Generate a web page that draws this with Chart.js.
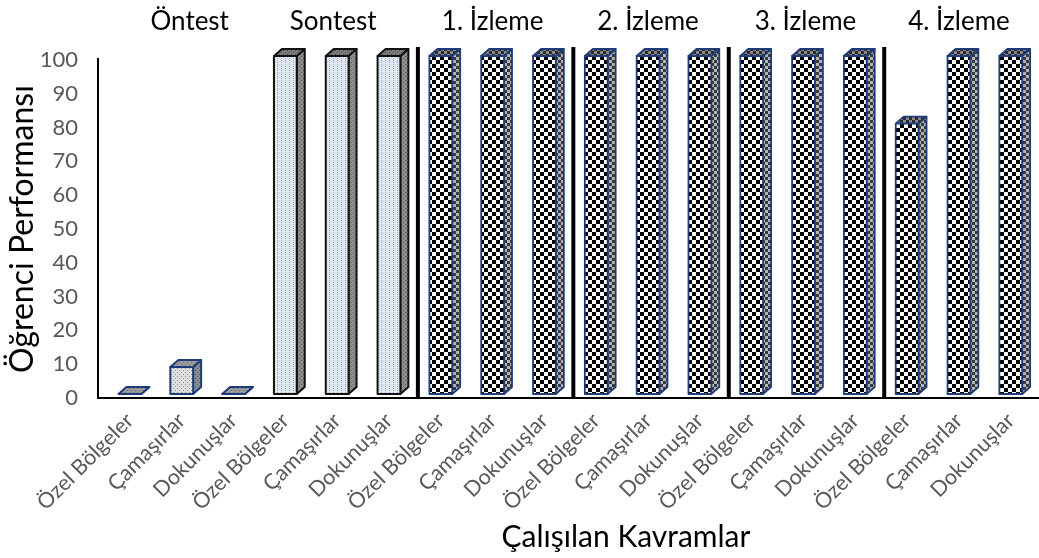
<!DOCTYPE html>
<html><head><meta charset="utf-8">
<script src="https://cdn.jsdelivr.net/npm/chart.js@4.4.0/dist/chart.umd.min.js"></script>
<style>html,body{margin:0;padding:0;background:#fff}#wrap{width:1039px;height:558px}</style>
</head><body><div id="wrap"><canvas id="c" width="1039" height="558"></canvas></div>
<script>
// ---- data ----
const concepts = ['Özel Bölgeler', 'Çamaşırlar', 'Dokunuşlar'];
const phases = ['Öntest', 'Sontest', '1. İzleme', '2. İzleme', '3. İzleme', '4. İzleme'];
const ontest   = [0, 8, 0];
const sontest  = [100, 100, 100];
const izleme1  = [100, 100, 100];
const izleme2  = [100, 100, 100];
const izleme3  = [100, 100, 100];
const izleme4  = [80, 100, 100];
const yTickMin = 0, yTickMax = 100, yTickStep = 10;
const yTitle = 'Öğrenci Performansı';
const xTitle = 'Çalışılan Kavramlar';

const seriesByPhase = [ontest, sontest, izleme1, izleme2, izleme3, izleme4];
const labels = [];
const values = [];
const phaseOf = [];
seriesByPhase.forEach((s, p) => s.forEach((v, k) => { labels.push(concepts[k]); values.push(v); phaseOf.push(p); }));

// ---- styles ----
const FONT = 'Lato, "Open Sans", sans-serif';
const depth = { dx: 8, dy: 7, lift: 4 };

function makePattern(size, draw) {
  const c = document.createElement('canvas');
  c.width = size; c.height = size;
  const g = c.getContext('2d');
  draw(g, size);
  return c;
}
const ctxMain = document.getElementById('c').getContext('2d');
const pat = (tile) => ctxMain.createPattern(tile, 'repeat');

const checkFront = pat(makePattern(8, (g) => {
  g.fillStyle = '#ffffff'; g.fillRect(0, 0, 8, 8);
  g.fillStyle = '#000000'; g.fillRect(0, 0, 4, 4); g.fillRect(4, 4, 4, 4);
}));
const checkSide = pat(makePattern(6, (g) => {
  g.fillStyle = '#b4b4b4'; g.fillRect(0, 0, 6, 6);
  g.fillStyle = '#3a3a3a'; g.fillRect(0, 0, 3, 3); g.fillRect(3, 3, 3, 3);
}));
const checkTop = pat(makePattern(6, (g) => {
  g.fillStyle = '#8a8a8a'; g.fillRect(0, 0, 6, 6);
  g.fillStyle = '#2a2a2a'; g.fillRect(0, 0, 3, 3); g.fillRect(3, 3, 3, 3);
}));
const dotFront = pat(makePattern(4, (g) => {
  g.fillStyle = '#e2e9f5'; g.fillRect(0, 0, 4, 4);
  g.fillStyle = '#8fa2c8'; g.fillRect(1, 0, 1, 1); g.fillRect(1, 2, 1, 1);
  g.fillStyle = '#c3cfe6'; g.fillRect(3, 1, 1, 1);
}));
const dotSide = pat(makePattern(4, (g) => {
  g.fillStyle = '#8c8c8c'; g.fillRect(0, 0, 4, 4);
  g.fillStyle = '#5a5a5a'; g.fillRect(1, 0, 1, 1); g.fillRect(3, 2, 1, 1);
}));
const dotTop = pat(makePattern(4, (g) => {
  g.fillStyle = '#7a7a7a'; g.fillRect(0, 0, 4, 4);
  g.fillStyle = '#4a4a4a'; g.fillRect(1, 0, 1, 1); g.fillRect(3, 2, 1, 1);
}));
const greyFront = pat(makePattern(4, (g) => {
  g.fillStyle = '#e0e0e0'; g.fillRect(0, 0, 4, 4);
  g.fillStyle = '#909090'; g.fillRect(1, 0, 1, 1); g.fillRect(3, 2, 1, 1);
}));
const greyTop = pat(makePattern(4, (g) => {
  g.fillStyle = '#9c9c9c'; g.fillRect(0, 0, 4, 4);
  g.fillStyle = '#6a6a6a'; g.fillRect(1, 0, 1, 1); g.fillRect(3, 2, 1, 1);
}));

const phaseStyle = [
  { front: greyFront, side: dotSide, top: greyTop, stroke: '#1f3c7a', lw: 2 },
  { front: dotFront, side: dotSide, top: dotTop, stroke: '#111111', lw: 2 },
  { front: checkFront, side: checkSide, top: checkTop, stroke: '#1f3c7a', lw: 1.8 },
  { front: checkFront, side: checkSide, top: checkTop, stroke: '#1f3c7a', lw: 1.8 },
  { front: checkFront, side: checkSide, top: checkTop, stroke: '#1f3c7a', lw: 1.8 },
  { front: checkFront, side: checkSide, top: checkTop, stroke: '#1f3c7a', lw: 1.8 }
];

const layoutCfg = {
  axisShift: 6, sepShift: 3, sepTop: 47, groupLabelY: 22,
  groupLabelNudge: [8, -4, 0, 0, 2, 0],
  xTitleX: 626, xTitleY: 537
};

const bars3d = {
  id: 'bars3d',
  afterDatasetsDraw(chart) {
    const ctx = chart.ctx;
    const meta = chart.getDatasetMeta(0);
    const { dx, dy, lift } = depth;
    meta.data.forEach((bar, i) => {
      const st = phaseStyle[phaseOf[i]];
      const w = bar.width;
      const xl = bar.x - w / 2, xr = bar.x + w / 2;
      const yt = bar.y - lift, yb = bar.base - lift;
      ctx.save();
      ctx.lineJoin = 'round';
      ctx.lineWidth = st.lw;
      ctx.strokeStyle = st.stroke;
      // side
      ctx.beginPath();
      ctx.moveTo(xr, yb); ctx.lineTo(xr + dx, yb - dy); ctx.lineTo(xr + dx, yt - dy); ctx.lineTo(xr, yt); ctx.closePath();
      ctx.fillStyle = st.side; ctx.fill(); ctx.stroke();
      // top
      ctx.beginPath();
      ctx.moveTo(xl, yt); ctx.lineTo(xl + dx, yt - dy); ctx.lineTo(xr + dx, yt - dy); ctx.lineTo(xr, yt); ctx.closePath();
      ctx.fillStyle = st.top; ctx.fill(); ctx.stroke();
      // front
      if (yb - yt > 0.5) {
        ctx.beginPath();
        ctx.rect(xl, yt, w, yb - yt);
        ctx.fillStyle = st.front; ctx.fill(); ctx.stroke();
      }
      ctx.restore();
    });
  },
  afterDraw(chart) {
    const ctx = chart.ctx;
    const xs = chart.scales.x, ys = chart.scales.y;
    const ca = chart.chartArea;
    const axisX = ca.left - layoutCfg.axisShift;
    const y0 = ys.getPixelForValue(yTickMin);
    ctx.save();
    ctx.strokeStyle = '#000';
    ctx.lineWidth = 2;
    ctx.beginPath();
    ctx.moveTo(axisX, ys.getPixelForValue(yTickMax) - 2); ctx.lineTo(axisX, y0);
    ctx.lineTo(chart.width, y0);
    ctx.stroke();
    // group separators
    ctx.lineWidth = 4;
    for (let p = 2; p < phases.length; p++) {
      const b = p * concepts.length;
      const x = (xs.getPixelForValue(b - 1) + xs.getPixelForValue(b)) / 2 + layoutCfg.sepShift;
      ctx.beginPath(); ctx.moveTo(x, layoutCfg.sepTop); ctx.lineTo(x, y0); ctx.stroke();
    }
    // group labels
    ctx.fillStyle = '#000';
    ctx.font = '26px ' + FONT;
    ctx.textAlign = 'center';
    ctx.textBaseline = 'middle';
    phases.forEach((ph, p) => {
      const mid = p * concepts.length + 1;
      ctx.fillText(ph, xs.getPixelForValue(mid) + layoutCfg.groupLabelNudge[p], layoutCfg.groupLabelY);
    });
    // x title
    ctx.font = '30px ' + FONT;
    ctx.fillText(xTitle, layoutCfg.xTitleX, layoutCfg.xTitleY);
    ctx.restore();
  }
};

new Chart(document.getElementById('c'), {
  type: 'bar',
  data: {
    labels: labels,
    datasets: [{ data: values, backgroundColor: 'rgba(0,0,0,0)', borderWidth: 0,
      barPercentage: 0.44, categoryPercentage: 1 }]
  },
  options: {
    responsive: false,
    animation: false,
    devicePixelRatio: 1,
    layout: { padding: { left: 0, right: -6, top: 60, bottom: 0 } },
    plugins: { legend: { display: false }, tooltip: { enabled: false } },
    scales: {
      x: {
        grid: { display: false, drawTicks: false },
        border: { display: false },
        ticks: { autoSkip: false, minRotation: 45, maxRotation: 45, padding: 10,
          color: '#595959', font: { family: FONT, size: 21.5 } },
        afterFit: (s) => { s.height = 160; }
      },
      y: {
        min: yTickMin, max: yTickMax,
        grid: { display: false, drawTicks: false },
        border: { display: false },
        ticks: { stepSize: yTickStep, padding: 26, color: '#595959', font: { family: FONT, size: 22 } },
        title: { display: true, text: yTitle, color: '#000', font: { family: FONT, size: 32 }, padding: { top: 3, bottom: 0 } },
        afterFit: (s) => { s.width = 104; }
      }
    }
  },
  plugins: [bars3d]
});
</script>
</body></html>
